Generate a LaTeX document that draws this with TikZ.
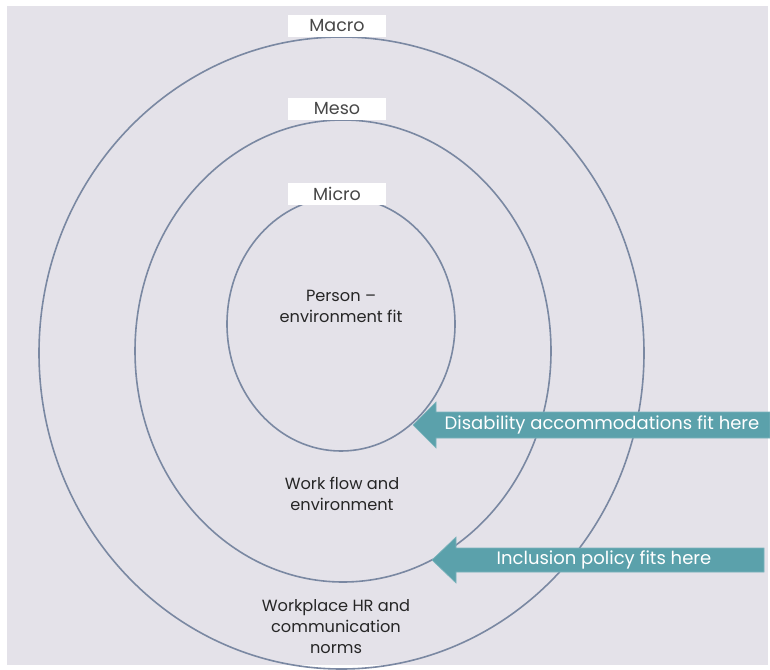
\documentclass[tikz,border=0pt]{standalone}
\usepackage{fontspec}
\setmainfont{Poppins}
\usepackage{tikz}

\definecolor{slide}{RGB}{228,226,233}
\definecolor{ringline}{RGB}{122,136,162}
\definecolor{tealarrow}{RGB}{91,161,171}
\definecolor{inktext}{RGB}{38,38,38}

\tikzset{
	ring/.style={draw=ringline, line width=1.6pt},
	tag/.style={fill=white, minimum width=98pt, minimum height=22pt, inner sep=0pt, font=\fontsize{17.5}{20}\selectfont, text=inktext!85},
	zone/.style={align=center, font=\fontsize{16.2}{21}\selectfont, text=inktext},
	callout/.style={fill=tealarrow, draw=tealarrow!80!white, line width=.6pt},
	calltext/.style={font=\fontsize{18}{20}\selectfont, text=white, inner sep=0pt}
}

\begin{document}
\begin{tikzpicture}[x=1pt, y=-1pt]
		\useasboundingbox (0,0) rectangle (770,669);
		\fill[white] (0,0) rectangle (770,669);
		\fill[slide] (7,6) rectangle (768,665);
		
		\draw[ring] (341.5,353) ellipse [x radius=302.5, y radius=316];
		\draw[ring] (343,351) ellipse [x radius=208, y radius=231];
		\draw[ring] (341,324) ellipse [x radius=114, y radius=127];
		
		\node[tag] (macro) at (337,26) {Macro};
		\node[tag] (meso) at (337,109) {Meso};
		\node[tag] (micro) at (337,194) {Micro};
		
		\node[zone] (fit) at (341,306) {Person –\\environment fit};
		\node[zone] (flow) at (342,494) {Work flow and\\environment};
		\node[zone] (norms) at (336,627) {Workplace HR and\\communication\\norms};
		
		%========================================================================
		% Arrows
		\fill[callout] (413,425) -- (436,402) -- (436,412) -- (770,412)
			-- (770,438) -- (436,438) -- (436,448) -- cycle;
		\node[calltext] (accom) at (602,425) {Disability accommodations fit here};
		
		\fill[callout] (432,560) -- (456,537) -- (456,548) -- (764,548)
			-- (764,572) -- (456,572) -- (456,583) -- cycle;
		\node[calltext] (policy) at (604,560) {Inclusion policy fits here};
	\end{tikzpicture}
\end{document}
